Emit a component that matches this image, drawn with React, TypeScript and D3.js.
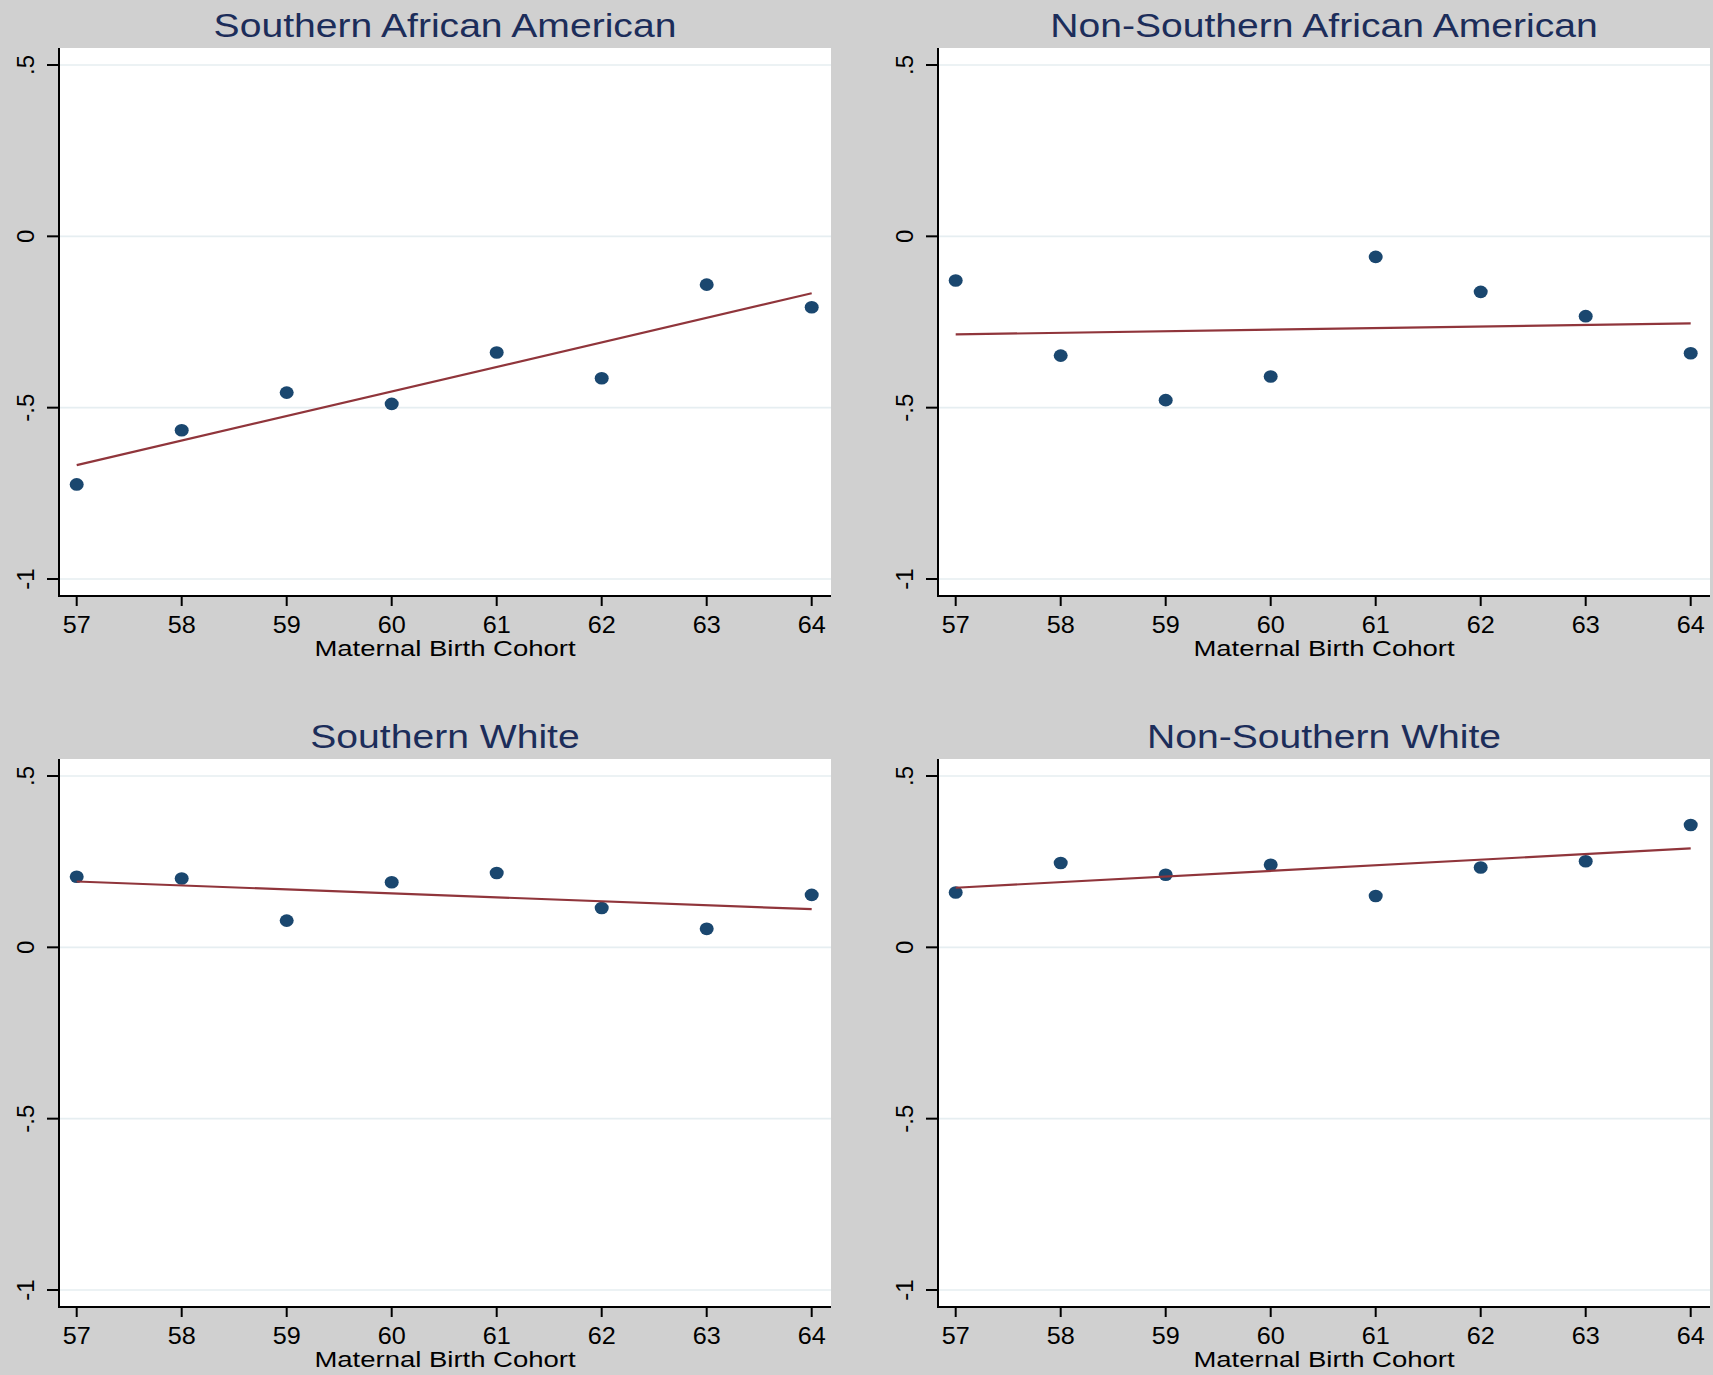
import React from "react";
import * as d3 from "d3";

const cohorts = [57, 58, 59, 60, 61, 62, 63, 64];
const yTicks = [-1, -0.5, 0, 0.5];
const yTickLabels = ["-1", "-.5", "0", ".5"];
const panelTitles = [
  "Southern African American",
  "Non-Southern African American",
  "Southern White",
  "Non-Southern White",
];
const southernAA = [-0.724, -0.566, -0.456, -0.489, -0.339, -0.414, -0.141, -0.207];
const nonSouthernAA = [-0.129, -0.348, -0.478, -0.409, -0.06, -0.162, -0.233, -0.341];
const southernWhite = [0.206, 0.201, 0.078, 0.19, 0.217, 0.115, 0.054, 0.153];
const nonSouthernWhite = [0.16, 0.246, 0.212, 0.241, 0.15, 0.233, 0.251, 0.357];
const seriesList = [southernAA, nonSouthernAA, southernWhite, nonSouthernWhite];
const xTitle = "Maternal Birth Cohort";

const W = 1713;
const H = 1375;
const FONT = "'Liberation Sans', Arial, Helvetica, sans-serif";
const BG = "#d0d0d0";
const NAVY = "#1a476f";
const MAROON = "#90353b";
const TITLE = "#1c2d5a";

const plotW = 772;
const plotH = 548;
const origins = [
  { x: 59, y: 48 },
  { x: 938, y: 48 },
  { x: 59, y: 759 },
  { x: 938, y: 759 },
];

function olsFit(xs: number[], ys: number[]) {
  const mx = d3.mean(xs) as number;
  const my = d3.mean(ys) as number;
  let sxy = 0;
  let sxx = 0;
  xs.forEach((x, i) => {
    sxy += (x - mx) * (ys[i] - my);
    sxx += (x - mx) * (x - mx);
  });
  const b = sxy / sxx;
  const a = my - b * mx;
  return (x: number) => a + b * x;
}

function Panel({ idx }: { idx: number }) {
  const o = origins[idx];
  const values = seriesList[idx];
  const x = d3.scaleLinear().domain([57, 64]).range([17.7, 752.7]);
  const y = d3.scaleLinear().domain([-1, 0.5]).range([531, 17]);
  const fit = olsFit(cohorts, values);
  const lineGen = d3
    .line<number>()
    .x((d) => x(d))
    .y((d) => y(fit(d)));
  const lineX = [cohorts[0], cohorts[cohorts.length - 1]];
  return (
    <g transform={`translate(${o.x},${o.y})`}>
      <text
        transform={`translate(${plotW / 2},${-11}) scale(1.15,1)`}
        textAnchor="middle"
        fontFamily={FONT}
        fontSize={34}
        fill={TITLE}
      >
        {panelTitles[idx]}
      </text>
      <rect x={0} y={0} width={plotW} height={plotH} fill="#ffffff" />
      {yTicks.map((t) => (
        <line
          key={"g" + t}
          x1={0}
          x2={plotW}
          y1={y(t)}
          y2={y(t)}
          stroke="#e6eef1"
          strokeWidth={1.6}
        />
      ))}
      {values.map((v, i) => (
        <ellipse
          key={"p" + i}
          cx={x(cohorts[i])}
          cy={y(v)}
          rx={7}
          ry={6.3}
          fill={NAVY}
        />
      ))}
      <path d={lineGen(lineX) || ""} fill="none" stroke={MAROON} strokeWidth={2.2} />
      <line x1={0} x2={0} y1={0} y2={plotH} stroke="#000" strokeWidth={2} />
      <line x1={-1} x2={plotW} y1={plotH} y2={plotH} stroke="#000" strokeWidth={2} />
      {yTicks.map((t, i) => (
        <g key={"yt" + t}>
          <line x1={-12} x2={0} y1={y(t)} y2={y(t)} stroke="#000" strokeWidth={2} />
          <text
            transform={`translate(${-25},${y(t)}) rotate(-90)`}
            textAnchor="middle"
            fontFamily={FONT}
            fontSize={24}
            fill="#000"
          >
            {yTickLabels[i]}
          </text>
        </g>
      ))}
      {cohorts.map((c) => (
        <g key={"xt" + c}>
          <line
            x1={x(c)}
            x2={x(c)}
            y1={plotH}
            y2={plotH + 10}
            stroke="#000"
            strokeWidth={2}
          />
          <text
            transform={`translate(${x(c)},${plotH + 37}) scale(1.05,1)`}
            textAnchor="middle"
            fontFamily={FONT}
            fontSize={24}
            fill="#000"
          >
            {c}
          </text>
        </g>
      ))}
      <text
        transform={`translate(${plotW / 2},${plotH + 60}) scale(1.25,1)`}
        textAnchor="middle"
        fontFamily={FONT}
        fontSize={22}
        fill="#000"
      >
        {xTitle}
      </text>
    </g>
  );
}

export default function App() {
  return (
    <svg
      width={W}
      height={H}
      style={{ position: "absolute", left: 0, top: 0, display: "block" }}
    >
      <rect x={0} y={0} width={W} height={H} fill={BG} />
      {[0, 1, 2, 3].map((i) => (
        <Panel key={i} idx={i} />
      ))}
    </svg>
  );
}
